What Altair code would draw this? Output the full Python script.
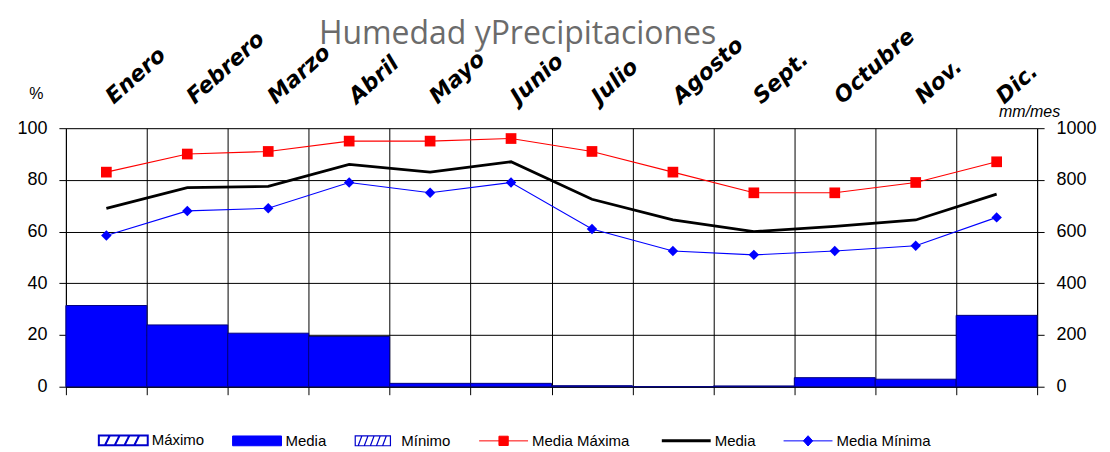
import altair as alt
import pandas as pd

months = ["Enero", "Febrero", "Marzo", "Abril", "Mayo", "Junio", "Julio",
          "Agosto", "Sept.", "Octubre", "Nov.", "Dic."]
media_max = [83, 90, 91, 95, 95, 96, 91, 83, 75, 75, 79, 87]
media = [69, 77, 77.5, 86, 83, 87, 72.5, 64.5, 60, 62, 64.5, 74.5]
media_min = [58.5, 68, 69, 79, 75, 79, 61, 52.5, 51, 52.5, 54.5, 65.5]
precip = [314, 239, 207, 194, 13, 13, 4, 0, 3, 35, 29, 276]

keys = ["max_bar", "media_bar", "min_bar", "media_max", "media", "media_min"]
labels = ["Máximo", "Media", "Mínimo", "Media Máxima", "Media", "Media Mínima"]
colors = ["#0000cc", "#0000ff", "#0000cc", "#ff0000", "#000000", "#0000ff"]

bars_df = pd.DataFrame({
    "mes": months,
    "x0": list(range(12)),
    "x1": [i + 1 for i in range(12)],
    "precip": precip,
})

rows = []
for key, vals in [("media_max", media_max), ("media", media), ("media_min", media_min)]:
    for i, v in enumerate(vals):
        rows.append({"mes": months[i], "xc": i + 0.5, "val": v, "serie": key})
lines_df = pd.DataFrame(rows)

month_arr = "[" + ",".join("'%s'" % m for m in months) + "]"
label_expr = " : ".join(
    "datum.value == '%s' ? '%s'" % (k, l) for k, l in zip(keys[:-1], labels[:-1])
) + " : '%s'" % labels[-1]


def sig(mapping, default):
    expr = ""
    for k, v in mapping.items():
        expr += "datum.value == '%s' ? '%s' : " % (k, v)
    return alt.ExprRef(expr=expr + "'%s'" % default)


shapes = {
    "max_bar": "M-1,-0.2H1V0.2H-1ZM-0.75,0.2L-0.55,-0.2M-0.35,0.2L-0.15,-0.2M0.05,0.2L0.25,-0.2M0.45,0.2L0.65,-0.2",
    "media_bar": "M-1,-0.2H1V0.2H-1Z",
    "min_bar": "M-0.72,-0.2H0.72V0.2H-0.72ZM-0.6,0.2L-0.45,-0.2M-0.35,0.2L-0.2,-0.2M-0.1,0.2L0.05,-0.2M0.15,0.2L0.3,-0.2M0.4,0.2L0.55,-0.2",
    "media_max": "M-1,0H1M-0.19,-0.19H0.19V0.19H-0.19Z",
    "media": "M-1,0H1",
}
fills = {"max_bar": "#ffffff", "media_bar": "#0000ff", "min_bar": "#ffffff",
         "media_max": "#ff0000", "media": "transparent"}
strokes = {"max_bar": "#0000cc", "media_bar": "#000080", "min_bar": "#0000cc",
           "media_max": "#ff0000", "media": "#000000"}
sw_expr = ("datum.value == 'max_bar' ? 2 : datum.value == 'media' ? 3 : "
           "datum.value == 'min_bar' ? 1.2 : 1")

legend = alt.Legend(
    orient="none", legendX=50, legendY=305, direction="horizontal",
    title=None, labelExpr=label_expr, labelFont="Liberation Sans",
    labelFontSize=15, labelColor="#000000", symbolSize=2400,
    columnPadding=26, labelOffset=21, padding=0,
    symbolType=sig(shapes, "M-1,0H1M0,-0.21L0.19,0L0,0.21L-0.19,0Z"),
    symbolFillColor=sig(fills, "#0000ff"),
    symbolStrokeColor=sig(strokes, "#0000ff"),
    symbolStrokeWidth=alt.ExprRef(expr=sw_expr),
    symbolOpacity=1,
)

xscale = alt.Scale(domain=[0, 12], nice=False, zero=False)

bars = alt.Chart(bars_df).mark_bar(
    color="#0000ff", stroke="#000080", strokeWidth=1
).encode(
    x=alt.X("x0:Q", scale=xscale, axis=alt.Axis(
        orient="bottom", values=list(range(13)), labels=False, tickSize=8,
        tickColor="#000000", domainColor="#000000", grid=True,
        gridColor="#000000", gridOpacity=1, title=None)),
    x2="x1:Q",
    y=alt.Y("precip:Q", scale=alt.Scale(domain=[0, 1000], nice=False),
            axis=alt.Axis(orient="right", values=list(range(0, 1001, 200)),
                          format="d",
                          grid=False, tickSize=7, tickColor="#000000",
                          domainColor="#000000", labelFont="Liberation Sans",
                          labelFontSize=18, labelColor="#000000", labelPadding=12,
                          title="mm/mes", titleAngle=0, titleFont="Liberation Sans",
                          titleFontStyle="italic", titleFontWeight="normal",
                          titleFontSize=16, titleX=-8, titleY=-12,
                          titleAlign="center", titleBaseline="alphabetic",
                          titleColor="#000000")),
    y2=alt.datum(0),
)

yscale = alt.Scale(domain=[0, 100], nice=False)
ytop = alt.Y("val:Q", scale=yscale,
             axis=alt.Axis(orient="left", values=list(range(0, 101, 20)),
                           grid=True, gridColor="#000000", gridOpacity=1,
                           tickSize=7, tickColor="#000000", domainColor="#000000",
                           labelFont="Liberation Sans", labelFontSize=18,
                           labelColor="#000000", labelPadding=12,
                           title="%", titleAngle=0, titleFont="Liberation Sans",
                           titleFontWeight="normal", titleFontSize=16,
                           titleX=-30, titleY=-30, titleAlign="center",
                           titleBaseline="alphabetic", titleColor="#000000"))

xtop = alt.X("xc:Q", scale=xscale, axis=alt.Axis(
    orient="top", values=[i + 0.5 for i in range(12)],
    labelExpr=month_arr + "[floor(datum.value)]", ticks=False, domain=False,
    grid=False, labelAngle=-42, labelAlign="left", labelBaseline="alphabetic",
    labelPadding=24, labelOffset=7, labelFont="DejaVu Sans", labelFontSize=22,
    labelFontWeight="bold", labelFontStyle="italic", labelColor="#000000",
    labelOverlap=False, labelFlush=False, labelBound=False, title=None))

lines = alt.Chart(lines_df).mark_line().encode(
    x=xtop,
    y=ytop,
    color=alt.Color("serie:N", scale=alt.Scale(domain=keys, range=colors),
                    legend=legend),
    strokeWidth=alt.condition("datum.serie == 'media'", alt.value(2.8), alt.value(1.1)),
)

pts_max = alt.Chart(lines_df).transform_filter(
    "datum.serie == 'media_max'"
).mark_point(shape="square", filled=True, color="#ff0000", size=115, opacity=1).encode(
    x=alt.X("xc:Q", scale=xscale), y=alt.Y("val:Q", scale=yscale))

pts_min = alt.Chart(lines_df).transform_filter(
    "datum.serie == 'media_min'"
).mark_point(shape="diamond", filled=True, color="#0000ff", size=110, opacity=1).encode(
    x=alt.X("xc:Q", scale=xscale), y=alt.Y("val:Q", scale=yscale))

chart = alt.layer(
    bars, alt.layer(lines, pts_max, pts_min)
).resolve_scale(y="independent").properties(
    width=973, height=259,
    autosize=alt.AutoSizeParams(type="none"),
    padding={"left": 58, "top": 120, "right": 65, "bottom": 64},
    title=alt.TitleParams("Humedad yPrecipitaciones", font="Open Sans",
                          fontSize=32, fontWeight="normal", color="#6b6b6b",
                          anchor="middle", dx=-34, dy=31),
).configure_view(stroke=None).configure(background="white")

chart.save("out.html", embed_options={"renderer": "svg", "actions": False})
